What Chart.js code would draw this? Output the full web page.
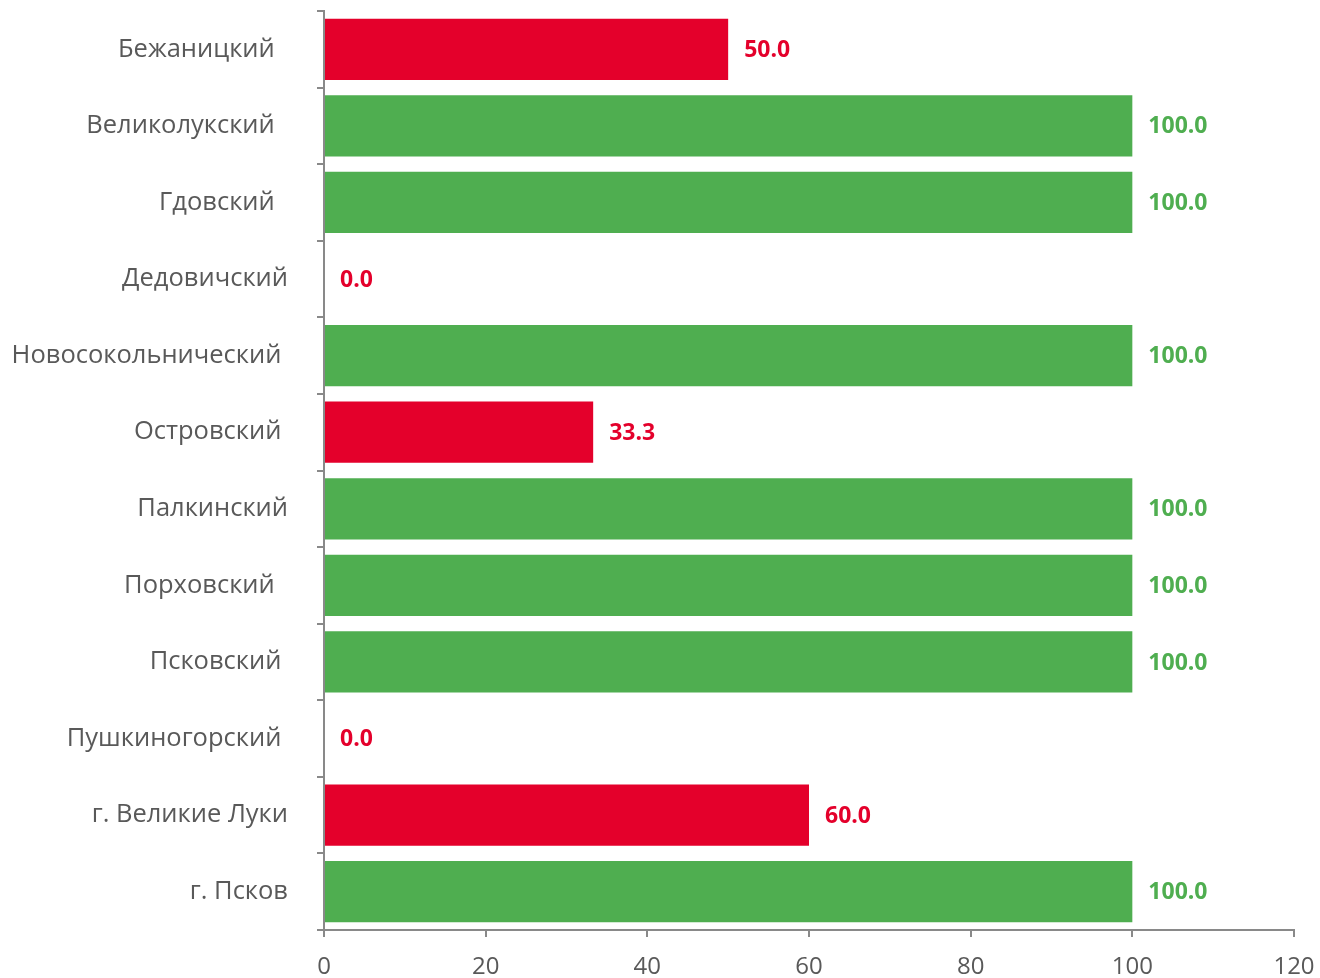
<!DOCTYPE html>
<html>
<head>
<meta charset="utf-8">
<script src="https://cdn.jsdelivr.net/npm/chart.js@4.4.1/dist/chart.umd.min.js"></script>
<style>
  html, body { margin: 0; padding: 0; background: #fff; }
  #wrap { width: 1320px; height: 978px; }
</style>
</head>
<body>
<div id="wrap"><canvas id="chart"></canvas></div>
<script>
// districts (trailing spaces kept as in the source sheet)
const districts = [
    'Бежаницкий  ', 'Великолукский  ', 'Гдовский  ', 'Дедовичский',
    'Новосокольнический ', 'Островский ', 'Палкинский', 'Порховский  ',
    'Псковский ', 'Пушкиногорский ', 'г. Великие Луки', 'г. Псков'
];
const shares = [50.0, 100.0, 100.0, 0.0, 100.0, 33.3, 100.0, 100.0, 100.0, 0.0, 60.0, 100.0];
const xTicks = [0, 20, 40, 60, 80, 100, 120];

const RED = '#E4002B';
const GREEN = '#4FAE50';
const AXIS = '#898989';
const TEXT = '#595959';

const colorFor = v => v >= 100 ? GREEN : RED;

// value labels at the end of each bar
const valueLabels = {
    id: 'valueLabels',
    afterDatasetsDraw(chart) {
        const ctx = chart.ctx;
        const meta = chart.getDatasetMeta(0);
        ctx.save();
        ctx.font = 'bold 23px "Open Sans"';
        ctx.textAlign = 'left';
        ctx.textBaseline = 'middle';
        meta.data.forEach((bar, i) => {
            const v = shares[i];
            ctx.fillStyle = colorFor(v);
            ctx.fillText(v.toFixed(1), bar.x + 16, bar.y + 1);
        });
        ctx.restore();
    }
};

new Chart(document.getElementById('chart'), {
    type: 'bar',
    data: {
        labels: districts,
        datasets: [{
            data: shares,
            backgroundColor: shares.map(colorFor),
            borderWidth: 0,
            barPercentage: 0.8,
            categoryPercentage: 1.0
        }]
    },
    options: {
        indexAxis: 'y',
        responsive: true,
        maintainAspectRatio: false,
        animation: false,
        layout: { padding: { top: 11, right: 26, left: 0, bottom: 0 } },
        plugins: { legend: { display: false }, tooltip: { enabled: false } },
        scales: {
            x: {
                min: 0,
                max: 120,
                afterBuildTicks: s => { s.ticks = xTicks.map(v => ({ value: v })); },
                afterFit: s => { s.height = 48; s.paddingLeft = 0; s.paddingRight = 0; },
                border: { color: AXIS, width: 2 },
                grid: { drawOnChartArea: false, drawTicks: true, tickLength: 7, color: AXIS, lineWidth: 2 },
                ticks: { color: TEXT, font: { family: 'Open Sans', size: 24 }, padding: 16 }
            },
            y: {
                afterFit: s => { s.width = 324; s.paddingTop = 0; s.paddingBottom = 0; },
                border: { color: AXIS, width: 2 },
                grid: { offset: true, drawOnChartArea: false, drawTicks: true, tickLength: 7, color: AXIS, lineWidth: 2 },
                ticks: { color: TEXT, font: { family: 'Open Sans', size: 25.5 }, padding: 29 }
            }
        }
    },
    plugins: [valueLabels]
});
</script>
</body>
</html>
